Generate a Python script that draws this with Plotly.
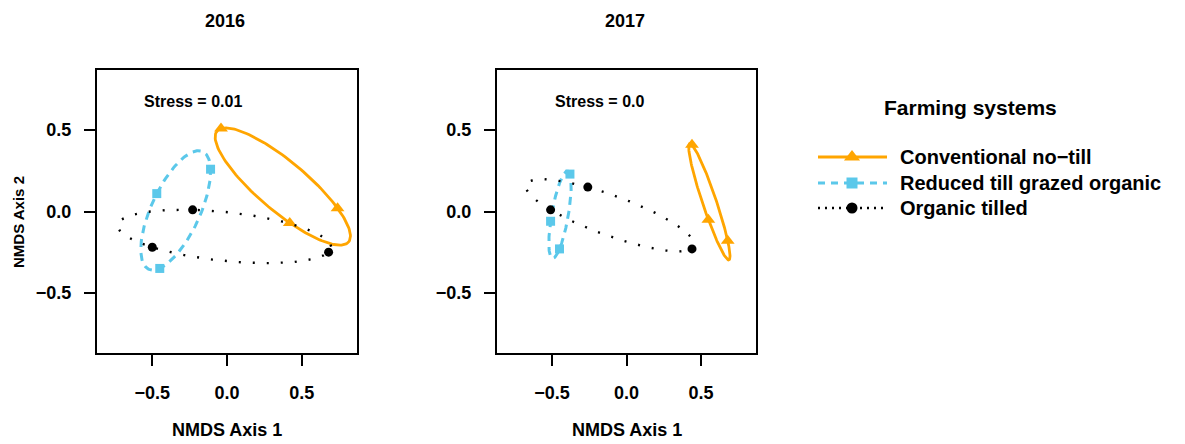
import numpy as np
import plotly.graph_objects as go

# the page body has an 8px margin, so the figure is drawn 8px in
OFF = 8
W, H = 1185 - OFF, 444 - OFF

years = ["2016", "2017"]
stress_labels = ["Stress = 0.01", "Stress = 0.0"]
systems = ["Conventional no\u2212till", "Reduced till grazed organic", "Organic tilled"]
legend_title = "Farming systems"

# NMDS site scores, three plots per farming system
conv_x_2016 = [-0.04, 0.74, 0.42]
conv_y_2016 = [0.51, 0.02, -0.07]
red_x_2016 = [-0.47, -0.11, -0.45]
red_y_2016 = [0.11, 0.26, -0.35]
org_x_2016 = [-0.23, -0.50, 0.68]
org_y_2016 = [0.01, -0.22, -0.25]

conv_x_2017 = [0.44, 0.55, 0.68]
conv_y_2017 = [0.41, -0.05, -0.18]
red_x_2017 = [-0.38, -0.51, -0.45]
red_y_2017 = [0.23, -0.06, -0.23]
org_x_2017 = [-0.26, -0.51, 0.44]
org_y_2017 = [0.15, 0.01, -0.23]

tick_vals = [-0.5, 0.0, 0.5]

ORANGE = "#FFA500"
CYAN = "#5BC8EA"
BLACK = "#000000"
FONT = "Liberation Sans, Arial, sans-serif"

styles = [
    dict(color=ORANGE, dash="solid", width=2.8, symbol="triangle-up", size=12),
    dict(color=CYAN, dash="8px,6px", width=3, symbol="square", size=9),
    dict(color=BLACK, dash="2px,12px", width=2.4, symbol="circle", size=9),
]
legend_dash = ["solid", "7px,6px", "2px,5px"]

panels = [
    [(conv_x_2016, conv_y_2016), (red_x_2016, red_y_2016), (org_x_2016, org_y_2016)],
    [(conv_x_2017, conv_y_2017), (red_x_2017, red_y_2017), (org_x_2017, org_y_2017)],
]


def hull_ellipse(xs, ys, n=160):
    # minimum-area ellipse through three points (ellipsoid hull)
    p = np.column_stack([xs, ys])
    c = p.mean(axis=0)
    u = p[0] - c
    v = (p[1] - p[2]) / np.sqrt(3)
    t = np.linspace(0, 2 * np.pi, n)
    e = c + np.outer(np.cos(t), u) + np.outer(np.sin(t), v)
    return e[:, 0], e[:, 1]


def px(x):
    return (x - OFF) / W


def py(y):
    return 1 - (y - OFF) / H


fig = go.Figure()

x_dom = [(97, 357), (497, 756)]
y_dom = (70, 353)

for i, groups in enumerate(panels):
    xa = "x" if i == 0 else "x2"
    ya = "y" if i == 0 else "y2"
    for (gx, gy), st in zip(groups, styles):
        ex, ey = hull_ellipse(gx, gy)
        fig.add_trace(go.Scatter(
            x=ex, y=ey, mode="lines", xaxis=xa, yaxis=ya, showlegend=False,
            line=dict(color=st["color"], dash=st["dash"], width=st["width"]),
            hoverinfo="skip"))
        fig.add_trace(go.Scatter(
            x=gx, y=gy, mode="markers", xaxis=xa, yaxis=ya, showlegend=False,
            marker=dict(color=st["color"], symbol=st["symbol"], size=st["size"])))

# legend drawn on a pixel-space axis covering the whole page
leg_rows = [157, 183, 208]
for name, st, dash, ry in zip(systems, styles, legend_dash, leg_rows):
    fig.add_trace(go.Scatter(
        x=[818, 887], y=[ry, ry], mode="lines", xaxis="x3", yaxis="y3",
        showlegend=False, hoverinfo="skip",
        line=dict(color=st["color"], dash=dash, width=st["width"])))
    fig.add_trace(go.Scatter(
        x=[852], y=[ry], mode="markers", xaxis="x3", yaxis="y3",
        showlegend=False, hoverinfo="skip",
        marker=dict(color=st["color"], symbol=st["symbol"], size=st["size"] + 2)))

axis_common = dict(
    range=[-0.87, 0.87], showgrid=False, zeroline=False,
    showline=True, mirror=True, linecolor="black", linewidth=2,
    ticks="outside", ticklen=11, tickwidth=2, tickcolor="black",
    tickvals=tick_vals, tickformat=".1f",
    tickfont=dict(family=FONT, size=18, color="black", weight="bold"),
)

layout = dict(
    width=W, height=H,
    margin=dict(l=0, r=0, t=0, b=0),
    paper_bgcolor="white", plot_bgcolor="rgba(0,0,0,0)",
    font=dict(family=FONT, color="black"),
    showlegend=False,
    xaxis3=dict(domain=[0, 1], range=[OFF, 1185], visible=False,
                fixedrange=True, anchor="y3"),
    yaxis3=dict(domain=[0, 1], range=[444, OFF], visible=False,
                fixedrange=True, anchor="x3"),
)
for i in range(2):
    sx = "" if i == 0 else "2"
    layout["xaxis" + sx] = dict(
        axis_common, domain=[px(x_dom[i][0]), px(x_dom[i][1])],
        anchor="y" + sx, ticklabelstandoff=11)
    layout["yaxis" + sx] = dict(
        axis_common, domain=[py(y_dom[1]), py(y_dom[0])],
        anchor="x" + sx, ticklabelstandoff=9)

fig.update_layout(**layout)

bold = dict(family=FONT, color="black", weight="bold")


def label(x, y, text, size, **kw):
    return dict(x=px(x), y=py(y), xref="paper", yref="paper", text=text,
                showarrow=False, xanchor=kw.pop("xanchor", "center"),
                yanchor="middle", font=dict(bold, size=size), **kw)


annotations = []
for i in range(2):
    cx = (x_dom[i][0] + x_dom[i][1]) / 2
    annotations.append(label(cx - 2, 21, years[i], 18))
    annotations.append(label(cx, 430, "NMDS Axis 1", 18))
annotations.append(dict(x=-0.23, y=0.674, xref="x", yref="y",
                        text=stress_labels[0], showarrow=False,
                        font=dict(bold, size=16)))
annotations.append(dict(x=-0.18, y=0.674, xref="x2", yref="y2",
                        text=stress_labels[1], showarrow=False,
                        font=dict(bold, size=16)))
annotations.append(label(18, 222, "NMDS Axis 2", 15, textangle=-90))
annotations.append(label(970, 107, legend_title, 21))
for name, ry in zip(systems, leg_rows):
    annotations.append(label(898, ry, name, 20, xanchor="left"))
fig.update_layout(annotations=annotations)

fig.write_html("out.html")
